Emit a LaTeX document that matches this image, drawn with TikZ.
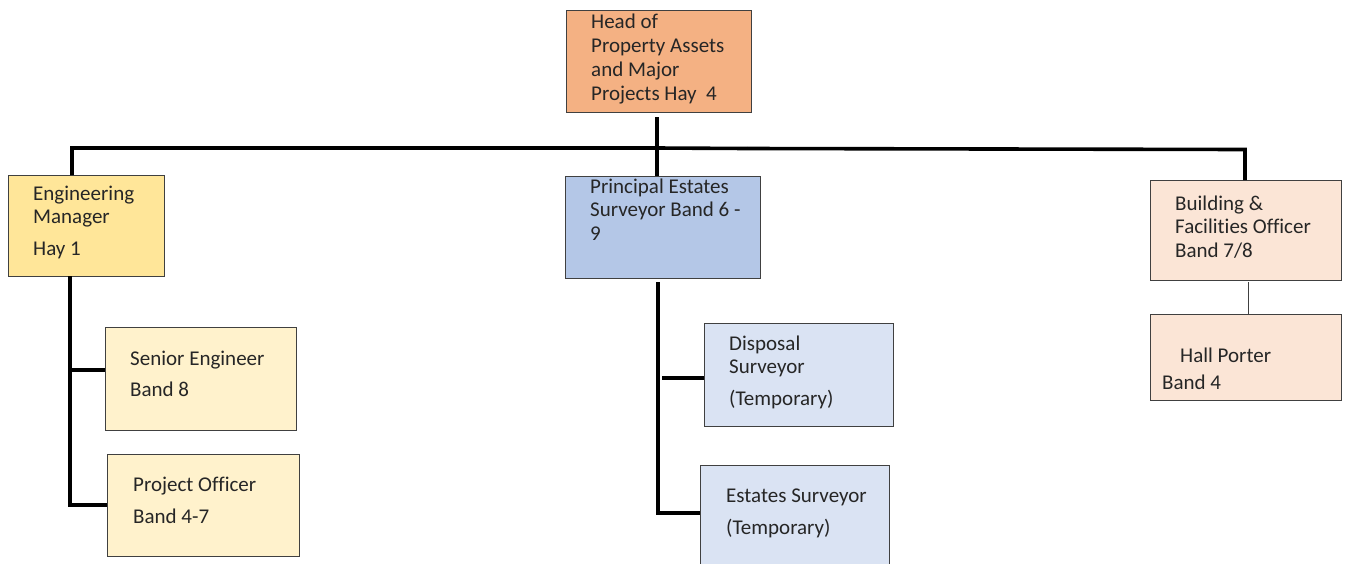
\documentclass[tikz,border=0pt]{standalone}
\usepackage{fontspec}
\setmainfont{Carlito}[Ligatures=NoCommon]
\definecolor{bordercol}{HTML}{404040}
\definecolor{txtcol}{HTML}{262626}
\definecolor{headfill}{HTML}{F4B183}
\definecolor{engfill}{HTML}{FFE699}
\definecolor{englight}{HTML}{FFF2CC}
\definecolor{pesfill}{HTML}{B4C7E7}
\definecolor{peslight}{HTML}{DAE3F3}
\definecolor{bldfill}{HTML}{FBE5D6}
\tikzset{
  box/.style={draw=bordercol, line width=1.3pt, rectangle, inner sep=0pt, anchor=north west},
  txt/.style={anchor=base west, inner sep=0pt, text=txtcol, font=\fontsize{21}{24}\selectfont},
  conn/.style={line width=3.6pt, black},
  thinconn/.style={line width=1pt, bordercol}
}
\begin{document}
\begin{tikzpicture}[x=1pt,y=-1pt]
\useasboundingbox (0,0) rectangle (1347,563);
% boxes
\node[box, fill=headfill, minimum width=185pt, minimum height=102pt] (head) at (566,10) {};
\node[txt] (h1) at (591,28) {Head of};
\node[txt] (h2) at (591,52) {Property Assets};
\node[txt] (h3) at (591,76) {and Major};
\node[txt] (h4) at (591,100) {Projects Hay\ \ 4};

\node[box, fill=engfill, minimum width=156pt, minimum height=101pt] (eng) at (8,175) {};
\node[txt] (e1) at (33,200) {Engineering};
\node[txt] (e2) at (33,223) {Manager};
\node[txt] (e3) at (33,255) {Hay 1};

\node[box, fill=englight, minimum width=191pt, minimum height=103pt] (sen) at (105,327) {};
\node[txt] (s1) at (130,365) {Senior Engineer};
\node[txt] (s2) at (130,396) {Band 8};

\node[box, fill=englight, minimum width=192pt, minimum height=102pt] (proj) at (107,454) {};
\node[txt] (p1) at (133,491) {Project Officer};
\node[txt] (p2) at (133,523) {Band 4-7};

\node[box, fill=pesfill, minimum width=195pt, minimum height=102pt] (pes) at (565,176) {};
\node[txt] (q1) at (590,193) {Principal Estates};
\node[txt] (q2) at (590,216) {Surveyor Band 6 -};
\node[txt] (q3) at (590,240) {9};

\node[box, fill=peslight, minimum width=189pt, minimum height=103pt] (disp) at (704,323) {};
\node[txt] (d1) at (729,350) {Disposal};
\node[txt] (d2) at (729,373) {Surveyor};
\node[txt] (d3) at (729,405) {(Temporary)};

\node[box, fill=peslight, minimum width=189pt, minimum height=110pt] (est) at (700,465) {};
\node[txt] (t1) at (726,502) {Estates Surveyor};
\node[txt] (t2) at (726,534) {(Temporary)};

\node[box, fill=bldfill, minimum width=191pt, minimum height=100pt] (bld) at (1150,180) {};
\node[txt] (b1) at (1175,210) {Building \&};
\node[txt] (b2) at (1175,233) {Facilities Officer};
\node[txt] (b3) at (1175,257) {Band 7/8};

\node[box, fill=bldfill, minimum width=191pt, minimum height=86pt] (hall) at (1150,314) {};
\node[txt] (hallt1) at (1180,362) {Hall Porter};
\node[txt] (hallt2) at (1162,389) {Band 4};

% connectors
\coordinate (hb) at (657,148);
\coordinate (hl) at (72,148);
\coordinate (hm) at (747,148.5);
\coordinate (hr) at (1245,149.5);
\coordinate (hx) at (657,117);
\draw[conn] (hx) -- (hb);
\draw[conn] (hb) -- (pes.north -| hb);
\draw[conn] (eng.north -| hl) -- (hl) -- (hb) -- (hm);
\draw[conn] (hm) -- (hr) -- (bld.north -| hr);

\coordinate (ev) at (70,505);
\coordinate (et) at (70,276);
\coordinate (es) at (70,370);
\draw[conn] (et) -- (ev) -- (ev -| proj.west);
\draw[conn] (es) -- (es -| sen.west);

\coordinate (pt) at (658,282);
\coordinate (pv) at (658,513);
\coordinate (pd) at (662,378);
\draw[conn] (pt) -- (pv) -- (pv -| est.west);
\draw[conn] (pd) -- (pd -| disp.west);

\coordinate (bt) at (1248,282);
\draw[thinconn] (bt) -- (bt |- hall.north);
\end{tikzpicture}
\end{document}
